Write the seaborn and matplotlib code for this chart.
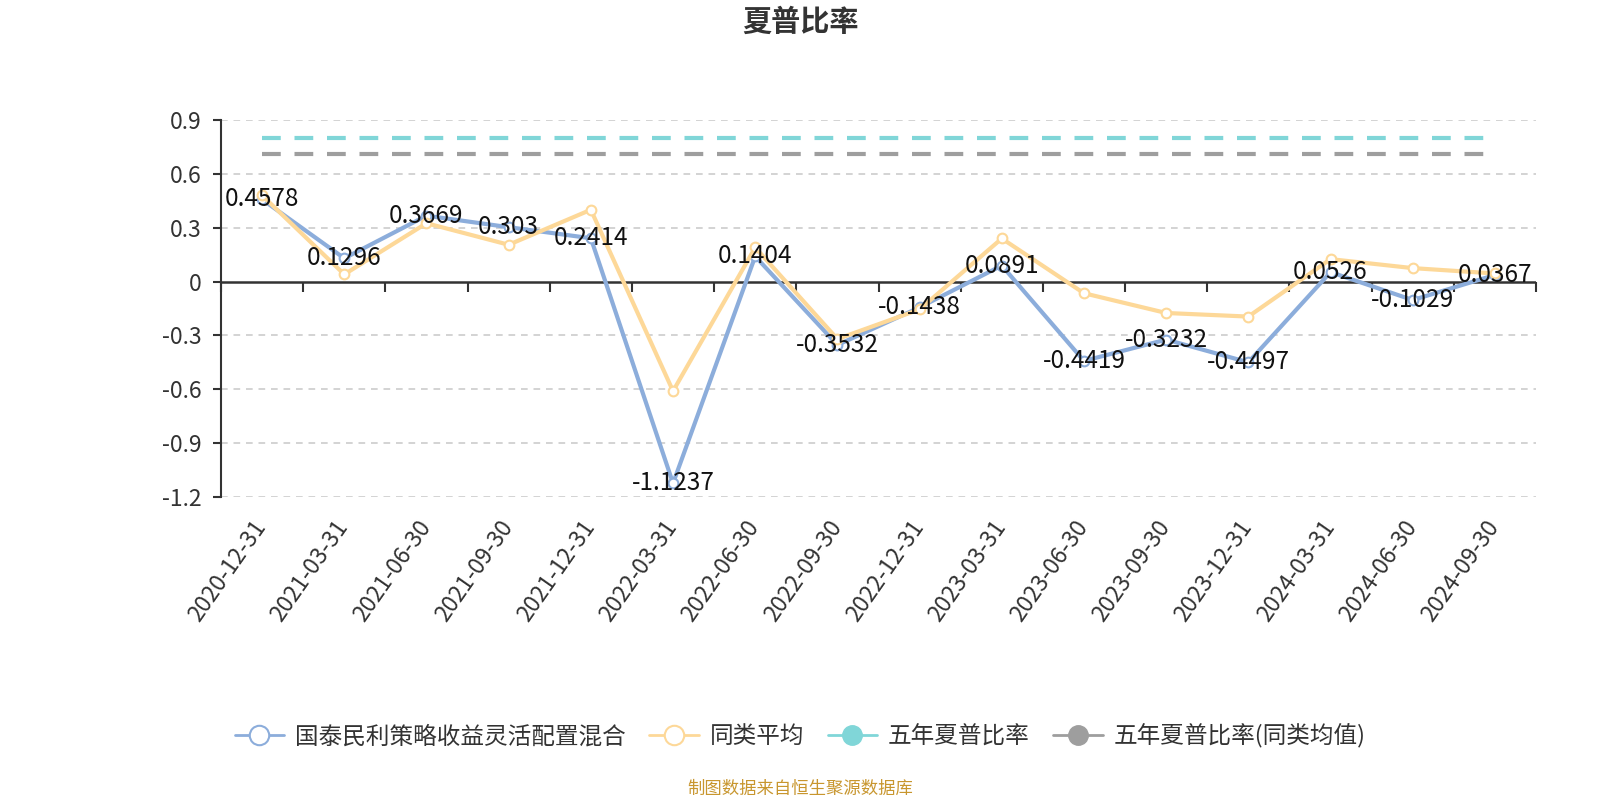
import matplotlib
matplotlib.use('Agg')
import matplotlib.pyplot as plt
import matplotlib.transforms as mtransforms
import seaborn as sns
import pandas as pd
import numpy as np
from matplotlib.lines import Line2D

# ---------------- data ----------------
dates = ['2020-12-31', '2021-03-31', '2021-06-30', '2021-09-30', '2021-12-31',
         '2022-03-31', '2022-06-30', '2022-09-30', '2022-12-31', '2023-03-31',
         '2023-06-30', '2023-09-30', '2023-12-31', '2024-03-31', '2024-06-30',
         '2024-09-30']
fund = [0.4578, 0.1296, 0.3669, 0.303, 0.2414, -1.1237, 0.1404, -0.3532,
        -0.1438, 0.0891, -0.4419, -0.3232, -0.4497, 0.0526, -0.1029, 0.0367]
peer = [0.48, 0.04, 0.325, 0.205, 0.40, -0.61, 0.19, -0.32,
        -0.155, 0.24, -0.065, -0.175, -0.195, 0.125, 0.075, 0.045]
five_year = [0.80] * len(dates)
five_year_peer = [0.71] * len(dates)
series_names = ['国泰民利策略收益灵活配置混合', '同类平均', '五年夏普比率', '五年夏普比率(同类均值)']
y_ticks = [0.9, 0.6, 0.3, 0, -0.3, -0.6, -0.9, -1.2]
y_tick_labels = ['0.9', '0.6', '0.3', '0', '-0.3', '-0.6', '-0.9', '-1.2']
title = '夏普比率'
source = '制图数据来自恒生聚源数据库'

# ---------------- style ----------------
BLUE = '#8caddb'
YELLOW = '#fdd898'
CYAN = '#80d6d8'
GREY = '#9e9e9e'
TXT = '#333333'

sns.set_theme(style='white')
plt.rcParams['font.family'] = ['Noto Sans CJK SC', 'DejaVu Sans']
plt.rcParams['axes.unicode_minus'] = False

W, H = 1600, 800
fig = plt.figure(figsize=(16, 8), dpi=100)
left, right, top, bottom = 221, 1536, 120, 497
ax = fig.add_axes([left / W, 1 - bottom / H, (right - left) / W, (bottom - top) / H])

x = np.arange(len(dates))
df = pd.DataFrame({'x': x, 'fund': fund, 'peer': peer,
                   'fy': five_year, 'fyp': five_year_peer})

ymin, ymax = -1.2, 0.9
ax.set_xlim(-0.5, len(dates) - 0.5)
ax.set_ylim(ymin, ymax)

# grid lines
for yt in y_ticks:
    if yt != 0:
        ax.axhline(yt, color='#cccccc', lw=1.2, dashes=(4, 3.5), zorder=0)

# zero axis line
ax.axhline(0, color=TXT, lw=1.8, zorder=1)

# dashed reference lines
sns.lineplot(data=df, x='x', y='fy', ax=ax, color=CYAN, lw=3, zorder=2)
ax.lines[-1].set_dashes((4.5, 3.3))
sns.lineplot(data=df, x='x', y='fyp', ax=ax, color=GREY, lw=3, zorder=2)
ax.lines[-1].set_dashes((4.5, 3.3))

# series
sns.lineplot(data=df, x='x', y='fund', ax=ax, color=BLUE, lw=3, marker='o',
             markersize=7, markerfacecolor='white', markeredgecolor=BLUE,
             markeredgewidth=1.5, zorder=3)
sns.lineplot(data=df, x='x', y='peer', ax=ax, color=YELLOW, lw=3, marker='o',
             markersize=7, markerfacecolor='white', markeredgecolor=YELLOW,
             markeredgewidth=1.5, zorder=4)

# data labels
for xi, v in zip(x, fund):
    ax.text(xi, v, str(v), ha='center', va='center', fontsize=17.5,
            color='#111111', zorder=6)

# axes styling
for s in ['top', 'right', 'bottom']:
    ax.spines[s].set_visible(False)
ax.spines['left'].set_color(TXT)
ax.spines['left'].set_linewidth(1.5)
ax.set_yticks(y_ticks)
ax.set_yticklabels(y_tick_labels)
ax.tick_params(axis='y', length=6, width=1.5, color=TXT, labelsize=16.5,
               labelcolor=TXT, pad=8, left=True)
ax.set_xticks(x)
ax.set_xticklabels(dates, rotation=55, ha='right', rotation_mode='anchor')
ax.tick_params(axis='x', length=0, labelsize=16.5, labelcolor=TXT, pad=14)
offset = mtransforms.ScaledTranslation(-10 / 100, 0, fig.dpi_scale_trans)
for lbl in ax.get_xticklabels():
    lbl.set_transform(lbl.get_transform() + offset)
ax.set_xlabel('')
ax.set_ylabel('')

# category boundary ticks on the zero line
sec = ax.secondary_xaxis((0 - ymin) / (ymax - ymin))
sec.set_xticks(np.arange(-0.5, len(dates), 1.0))
sec.set_xticklabels([''] * (len(dates) + 1))
sec.xaxis.set_ticks_position('bottom')
sec.tick_params(axis='x', length=7, width=1.5, color=TXT, direction='out',
                labelbottom=False, labeltop=False, top=False, bottom=True)
for s in sec.spines.values():
    s.set_visible(False)

# title
fig.text(0.5, 1 - 22 / H, title, ha='center', va='center', fontsize=21,
         fontweight='bold', color=TXT)

# legend
handles = [
    Line2D([], [], color=BLUE, lw=2, marker='o', markersize=14,
           markerfacecolor='white', markeredgecolor=BLUE, markeredgewidth=1.5),
    Line2D([], [], color=YELLOW, lw=2, marker='o', markersize=14,
           markerfacecolor='white', markeredgecolor=YELLOW, markeredgewidth=1.5),
    Line2D([], [], color=CYAN, lw=2, marker='o', markersize=14,
           markerfacecolor=CYAN, markeredgecolor=CYAN),
    Line2D([], [], color=GREY, lw=2, marker='o', markersize=14,
           markerfacecolor=GREY, markeredgecolor=GREY),
]
fig.legend(handles, series_names, loc='center', bbox_to_anchor=(0.5, 1 - 736 / H),
           ncol=4, frameon=False, fontsize=17, handlelength=2.1,
           handletextpad=0.45, columnspacing=1.0, labelcolor=TXT, numpoints=1)

fig.text(0.5, 1 - 789 / H, source, ha='center', va='center', fontsize=12.5,
         color='#c8962e')

fig.savefig('out.png', dpi=100)
